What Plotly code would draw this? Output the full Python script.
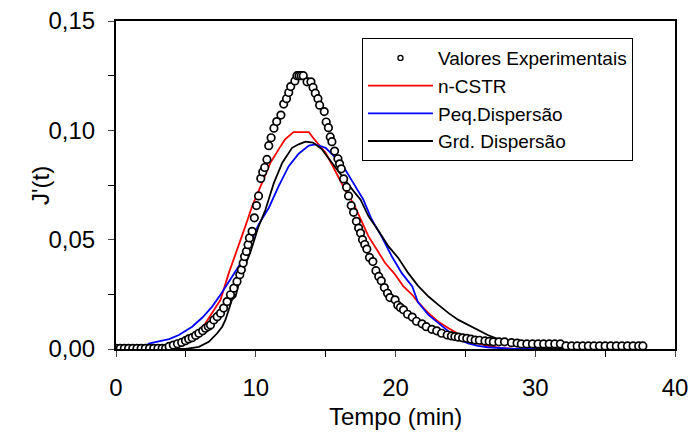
import plotly.graph_objects as go

# Experimental data (Valores Experimentais)
t_exp = [0.0, 0.3, 0.6, 0.9, 1.2, 1.5, 1.8, 2.1, 2.4, 2.7, 3.0, 3.3, 3.55,
         3.8, 4.1, 4.4, 4.7, 4.97, 5.2, 5.45, 5.7, 5.93, 6.2, 6.4, 6.6, 6.76,
         7.0, 7.24, 7.48, 7.7, 7.95, 8.19, 8.43, 8.66, 8.86, 8.97, 9.1, 9.2,
         9.33, 9.45, 9.55, 9.74, 9.9, 10.05, 10.2, 10.36, 10.5, 10.64, 10.8,
         10.93, 11.1, 11.3, 11.5, 11.8, 12.0, 12.2, 12.36, 12.5, 12.8, 12.95,
         13.1, 13.25, 13.4, 13.67, 13.95, 14.1, 14.26, 14.45, 14.57, 14.9,
         15.04, 15.2, 15.33, 15.45, 15.64, 15.88, 16.0, 16.12, 16.29, 16.5,
         16.64, 16.83, 17.0, 17.2, 17.36, 17.5, 17.64, 17.8, 17.95, 18.14,
         18.38, 18.6, 18.8, 18.98, 19.2, 19.43, 19.6, 19.97, 20.16, 20.35,
         20.57, 20.86, 21.2, 21.5, 21.9, 22.2, 22.6, 22.95, 23.3, 23.7, 24.0,
         24.25, 24.5, 24.8, 25.1, 25.4, 25.7, 26.0, 26.4, 26.7, 27.0, 27.4,
         27.8, 28.3, 28.7, 29.0, 29.4, 29.8, 30.2, 30.6, 31.0, 31.4, 31.8,
         32.2, 32.6, 33.0, 33.4, 33.8, 34.2, 34.6, 35.0, 35.4, 35.8, 36.2,
         36.6, 37.0, 37.4, 37.7]
j_exp = [0.0003, 0.0003, 0.0003, 0.0003, 0.0003, 0.0003, 0.0003, 0.0003,
         0.0003, 0.0003, 0.0003, 0.0003, 0.0003,
         0.0012, 0.0018, 0.0024, 0.0030, 0.0038, 0.0046, 0.0052, 0.0062,
         0.0072, 0.0083, 0.0095, 0.0103, 0.0110,
         0.0133, 0.0148, 0.0164, 0.0187, 0.0217, 0.0248, 0.0278, 0.0309,
         0.0340, 0.0362, 0.0393, 0.0423,
         0.0446, 0.0477, 0.0508, 0.0538, 0.0600, 0.0656, 0.0700, 0.0780,
         0.0810, 0.0830, 0.0867,
         0.0930, 0.0966, 0.1010, 0.1040, 0.1070, 0.1120, 0.1145, 0.1173,
         0.1200, 0.1226, 0.1250,
         0.1250, 0.1250, 0.1250, 0.1222, 0.1222, 0.1196, 0.1170, 0.1145,
         0.1115, 0.1086,
         0.1038, 0.1012, 0.0970, 0.0948, 0.0905, 0.0870, 0.0847, 0.0824,
         0.0778, 0.0740,
         0.0700, 0.0656, 0.0625, 0.0584, 0.0553, 0.0530, 0.0500, 0.0478,
         0.0457, 0.0419,
         0.0400, 0.0358, 0.0332, 0.0312, 0.0281, 0.0255, 0.0235, 0.0225,
         0.0200, 0.0190,
         0.0179, 0.0159, 0.0146, 0.0127, 0.0115, 0.0102, 0.0090, 0.0083,
         0.0072, 0.0064, 0.0060,
         0.0057, 0.0054, 0.0051, 0.0049, 0.0045, 0.0041, 0.0040, 0.0037,
         0.0035, 0.0033, 0.0033,
         0.0033, 0.0029, 0.0027, 0.0023, 0.0023, 0.0023, 0.0023, 0.0023,
         0.0023, 0.0023, 0.0023,
         0.0014, 0.0014, 0.0014, 0.0014, 0.0014, 0.0014, 0.0014, 0.0014,
         0.0014, 0.0014, 0.0014,
         0.0014, 0.0014, 0.0014, 0.0014]

# n-CSTR model
t_cstr = [0, 3.0, 4.5, 5.5, 6.17, 6.88, 7.48, 8.07, 8.55, 9.0, 9.38, 9.74,
          10.45, 11.05, 11.64, 12.1, 12.7, 13.3, 13.8, 14.1, 14.5, 15.0,
          15.45, 15.93, 16.5, 17.0, 17.5, 18.07, 18.67, 19.26, 19.98, 20.57,
          21.2, 21.6, 22.36, 23.07, 23.8, 24.5, 25.2, 25.9, 26.6, 27.5, 28.5,
          32.0]
j_cstr = [0, 0, 0.0010, 0.0040, 0.0095, 0.0164, 0.0225, 0.0347, 0.0439,
          0.0515, 0.0584, 0.0653,
          0.0760, 0.0852, 0.0913, 0.0959, 0.0992, 0.0992, 0.0992, 0.0966,
          0.0936, 0.0897,
          0.0844, 0.0783, 0.0714, 0.0665, 0.0592, 0.0515, 0.0454, 0.0393,
          0.0340, 0.0286,
          0.0248, 0.0215, 0.0164, 0.0125, 0.0095, 0.0069, 0.0049, 0.0026,
          0.0014, 0.0005, 0.0,
          0.0]

# Pequena dispersao model
t_peq = [0, 1.8, 2.4, 3.2, 3.8, 4.5, 5.45, 6.2, 6.88, 7.5, 8.07, 9.0, 9.5,
         10.2, 10.93, 11.64, 12.36, 13.07, 13.8, 14.26, 15.0, 15.7, 16.4,
         17.1, 17.7, 18.3, 19.0, 19.74, 20.45, 21.2, 21.6, 22.36, 23.07,
         23.8, 24.5, 25.2, 25.9, 26.6, 27.5, 28.5, 32.0]
j_peq = [0, 0.0003, 0.0026, 0.0035, 0.0045, 0.0064, 0.0102, 0.0145, 0.0194,
         0.0250, 0.0309, 0.0400, 0.0470,
         0.0569, 0.0645, 0.0745, 0.0836, 0.0893, 0.0930, 0.0936, 0.0920,
         0.0875, 0.0821,
         0.0745, 0.0683, 0.0592, 0.0515, 0.0423, 0.0347, 0.0286, 0.0215,
         0.0156, 0.0118,
         0.0079, 0.0044, 0.0026, 0.0014, 0.0008, 0.0003, 0.0, 0.0]

# Grande dispersao model
t_grd = [0, 5.0, 5.93, 6.64, 7.24, 7.6, 7.83, 8.3, 8.55, 9.0, 9.6, 10.2,
         10.7, 11.3, 11.9, 12.6, 13.07, 13.55, 14.1, 14.74, 15.45, 16.17,
         16.9, 17.5, 18.07, 18.8, 19.5, 20.2, 20.9, 21.6, 22.36, 23.07, 23.8,
         24.5, 25.2, 25.9, 26.6, 27.4, 28.1, 28.8, 29.5, 30.5, 32.0]
j_grd = [0, 0, 0.0010, 0.0033, 0.0072, 0.0102, 0.0133, 0.0225, 0.0240,
         0.0347, 0.0439, 0.0560,
         0.0638, 0.0760, 0.0852, 0.0920, 0.0936, 0.0948, 0.0944, 0.0913,
         0.0852, 0.0790,
         0.0730, 0.0683, 0.0607, 0.0538, 0.0469, 0.0416, 0.0348, 0.0290,
         0.0240, 0.0202, 0.0164,
         0.0133, 0.0110, 0.0087, 0.0064, 0.0044, 0.0033, 0.0018, 0.0010,
         0.0003, 0.0]

x_ticks = [0, 10, 20, 30, 40]
y_ticks = [0.00, 0.05, 0.10, 0.15]
x_title = "Tempo (min)"
y_title = "J'(t)"

FONT = "Liberation Sans, Arial, sans-serif"
LW = 1.8
TICKFONT = 24

fig = go.Figure()
fig.add_trace(go.Scatter(x=t_cstr, y=j_cstr, mode="lines", name="n-CSTR",
                         line=dict(color="#ff0000", width=LW), legendrank=2))
fig.add_trace(go.Scatter(x=t_peq, y=j_peq, mode="lines", name="Peq.Dispersão",
                         line=dict(color="#0000ff", width=LW), legendrank=3))
fig.add_trace(go.Scatter(x=t_grd, y=j_grd, mode="lines", name="Grd. Dispersão",
                         line=dict(color="#000000", width=LW), legendrank=4))
fig.add_trace(go.Scatter(x=t_exp, y=j_exp, mode="markers", name="Valores Experimentais",
                         showlegend=False,
                         marker=dict(symbol="circle", size=7.5, color="white",
                                     line=dict(color="black", width=1.7))))
# legend-only entry with smaller marker
fig.add_trace(go.Scatter(x=[None], y=[None], mode="markers", name="Valores Experimentais",
                         marker=dict(symbol="circle", size=5, color="white",
                                     line=dict(color="black", width=1.4)),
                         legendrank=1))

fig.update_layout(
    width=693, height=437,
    margin=dict(l=116, r=18, t=21, b=88),
    paper_bgcolor="white", plot_bgcolor="white",
    separators=",.",
    font=dict(family=FONT, size=19, color="black"),
    showlegend=True,
    legend=dict(x=0.44, y=0.948, xanchor="left", yanchor="top",
                bordercolor="black", borderwidth=1, bgcolor="white",
                font=dict(size=19, family=FONT), itemwidth=65,
                tracegroupgap=0),
    xaxis=dict(range=[0, 40], tickvals=x_ticks, ticks="outside", ticklen=6,
               tickwidth=1.2, showline=True, linewidth=2, linecolor="black",
               mirror=True, showgrid=False, zeroline=False, automargin=False,
               ticklabelstandoff=10,
               minor=dict(dtick=5, ticks="outside", ticklen=6, tickwidth=1.2,
                          tickcolor="black", showgrid=False),
               tickfont=dict(size=TICKFONT)),
    yaxis=dict(range=[0, 0.15], tickvals=y_ticks, tickformat=".2f",
               ticks="outside", ticklen=6, tickwidth=1.2, showline=True,
               linewidth=2, linecolor="black", mirror=True, showgrid=False,
               zeroline=False, automargin=False, ticklabelstandoff=8,
               minor=dict(dtick=0.025, ticks="outside", ticklen=6,
                          tickwidth=1.2, tickcolor="black", showgrid=False),
               tickfont=dict(size=TICKFONT)),
    annotations=[
        dict(text=x_title, xref="paper", yref="paper", x=0.5, y=-0.205,
             xanchor="center", yanchor="middle", showarrow=False,
             font=dict(size=TICKFONT)),
        dict(text=y_title, xref="paper", yref="paper", x=-0.136, y=0.5,
             xanchor="center", yanchor="middle", showarrow=False,
             textangle=-90, font=dict(size=TICKFONT)),
    ],
)

fig.write_html("out.html")
